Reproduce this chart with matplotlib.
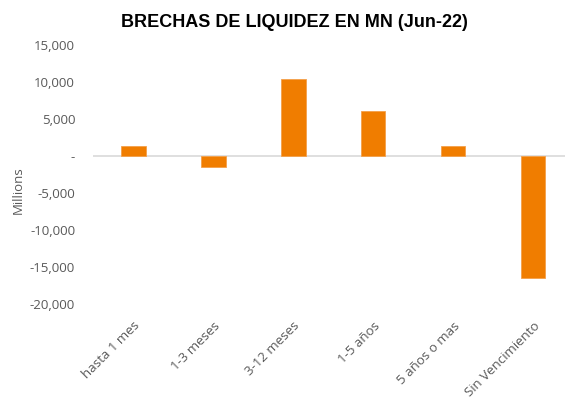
import matplotlib
matplotlib.use("Agg")
import matplotlib.pyplot as plt
from matplotlib.ticker import FuncFormatter

categories = ["hasta 1 mes", "1-3 meses", "3-12 meses", "1-5 años", "5 años o mas", "Sin Vencimiento"]
values = [1350, -1490, 10380, 6100, 1350, -16450]
yticks = [-20000, -15000, -10000, -5000, 0, 5000, 10000, 15000]

BAR_COLOR = "#F07D00"
TEXT_COLOR = "#595959"


def fmt(v, pos):
    if v == 0:
        return "-"
    return f"{v:,.0f}"


fig = plt.figure(figsize=(5.65, 4.01), dpi=100)
ax = fig.add_axes([0.165, 0.242, 0.835, 0.646])

x = range(len(categories))
ax.bar(x, values, width=0.31, color=BAR_COLOR, edgecolor="#F4A04A", linewidth=0.6, zorder=2)
ax.axhline(0, color="#D9D9D9", linewidth=1.2, zorder=1)

ax.set_xlim(-0.5, 5.4)
ax.set_ylim(-20000, 15000)
ax.set_yticks(yticks)
ax.yaxis.set_major_formatter(FuncFormatter(fmt))
ax.set_xticks(list(x))
ax.set_xticklabels(categories, rotation=45, ha="right", rotation_mode="anchor")

for s in ax.spines.values():
    s.set_visible(False)
ax.tick_params(axis="both", length=0, colors=TEXT_COLOR, labelsize=9.5)
ax.tick_params(axis="y", pad=13)
ax.tick_params(axis="x", pad=11)
for lab in ax.get_xticklabels() + ax.get_yticklabels():
    lab.set_fontfamily("Open Sans")

fig.text(18 / 565, 1 - 190 / 401, "Millions", rotation=90, ha="center", va="center",
         color=TEXT_COLOR, fontsize=9.5, fontfamily="Open Sans")

fig.text(0.522, 0.945, "BRECHAS DE LIQUIDEZ EN MN (Jun-22)", ha="center", va="center",
         fontsize=13, fontweight="bold", fontfamily="Liberation Sans", color="black")

fig.savefig("out.png", dpi=100)
